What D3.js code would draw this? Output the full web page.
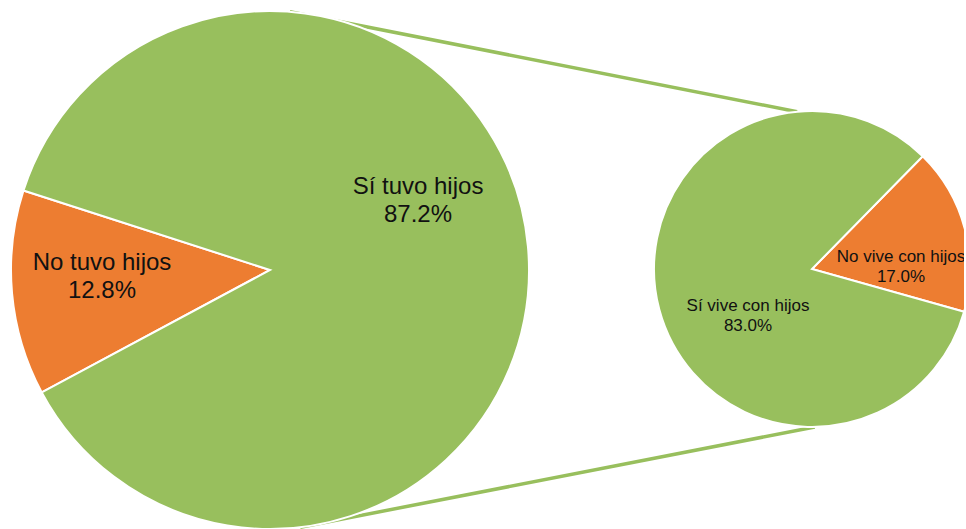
<!DOCTYPE html>
<html>
<head>
<meta charset="utf-8">
<script src="https://cdn.jsdelivr.net/npm/d3@7"></script>
<style>
  body { margin: 0; background: #fff; }
  svg { display: block; }
  text { font-family: "Liberation Sans", Arial, sans-serif; fill: #111; }
</style>
</head>
<body>
<svg id="chart" width="966" height="529"></svg>
<script>
// main pie
var mainLabels = ["No tuvo hijos", "Sí tuvo hijos"];
var mainValues = [12.8, 87.2];
// secondary pie (of those who had children)
var subLabels = ["No vive con hijos", "Sí vive con hijos"];
var subValues = [17.0, 83.0];

var colors = ["#ED7D31", "#98BF5D"];

var svg = d3.select("#chart");
var deg = Math.PI / 180;

var big = { cx: 270, cy: 270, r: 259, start: 241.8 };
var small = { cx: 812, cy: 269, r: 158, start: 44.5 };

function polar(p, a) {
  return [p.cx + p.r * Math.sin(a * deg), p.cy - p.r * Math.cos(a * deg)];
}

// connector lines between the two pies
var connectors = [[polar(big, 4.4), polar(small, -5.4)], [polar(big, 173.3), polar(small, 179)]];
svg.selectAll("line.conn")
  .data(connectors)
  .enter().append("line")
  .attr("class", "conn")
  .attr("x1", function(d) { return d[0][0]; })
  .attr("y1", function(d) { return d[0][1]; })
  .attr("x2", function(d) { return d[1][0]; })
  .attr("y2", function(d) { return d[1][1]; })
  .attr("stroke", colors[1])
  .attr("stroke-width", 3.5);

function drawPie(p, values, labels, fontSize, offsets) {
  var pie = d3.pie().sort(null)
    .startAngle(p.start * deg)
    .endAngle(p.start * deg + 2 * Math.PI);
  var arc = d3.arc().innerRadius(0).outerRadius(p.r);
  var g = svg.append("g").attr("transform", "translate(" + p.cx + "," + p.cy + ")");
  var arcs = pie(values);

  g.selectAll("path")
    .data(arcs)
    .enter().append("path")
    .attr("d", arc)
    .attr("fill", function(d, i) { return colors[i]; })
    .attr("stroke", "#fff")
    .attr("stroke-width", 2);

  var lab = g.selectAll("text")
    .data(arcs)
    .enter().append("text")
    .attr("text-anchor", "middle")
    .attr("font-size", fontSize + "px")
    .attr("transform", function(d, i) { return "translate(" + offsets[i][0] + "," + offsets[i][1] + ")"; });
  lab.append("tspan").attr("x", 0).attr("y", 0)
    .text(function(d, i) { return labels[i]; });
  lab.append("tspan").attr("x", 0).attr("dy", fontSize * 1.17)
    .text(function(d) { return d.data.toFixed(1) + "%"; });
}

drawPie(big, mainValues, mainLabels, 24, [[-168, 0], [148, -76]]);
drawPie(small, subValues, subLabels, 17, [[89, -7], [-64, 42]]);

// reference image is cropped at the right edge
svg.append("rect").attr("x", 964).attr("y", 0).attr("width", 2).attr("height", 529).attr("fill", "#fff");
</script>
</body>
</html>
